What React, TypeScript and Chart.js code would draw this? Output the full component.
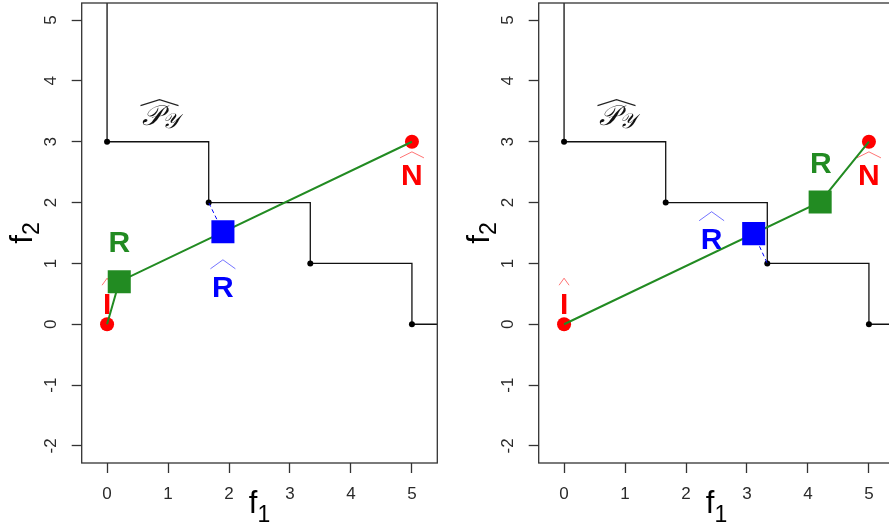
import React, { useEffect, useRef } from "react";
import { Chart, registerables } from "chart.js";

Chart.register(...registerables);

// ---------- data ----------
const X_TICKS = [0, 1, 2, 3, 4, 5];
const Y_TICKS = [-2, -1, 0, 1, 2, 3, 4, 5];
const X_RANGE = [-0.416, 5.416];
const Y_RANGE = [-2.28, 5.28];

// Pareto front approximation (points)
const FRONT_F1 = [0, 1.667, 3.333, 5];
const FRONT_F2 = [3, 2, 1, 0];
// where the staircase leaves the plot (beyond the axes)
const FRONT_TOP = 6;
const FRONT_RIGHT = 6;

const IDEAL = [0, 0];
const NADIR = [5, 3];

// left panel
const R_LEFT = [0.2, 0.7];
const RHAT_LEFT = [1.9, 1.52];
const PROJ_LEFT = [1.667, 2];
const LBL_R_LEFT = [0.2, 1.37];
const LBL_RHAT_LEFT = [1.9, 0.62];

// right panel
const R_RIGHT = [4.2, 2.01];
const RHAT_RIGHT = [3.11, 1.49];
const PROJ_RIGHT = [3.333, 1];
const LBL_R_RIGHT = [4.21, 2.67];
const LBL_RHAT_RIGHT = [2.42, 1.41];

// shared labels
const LBL_I = [0, 0.35];
const LBL_N = [5, 2.46];
const LBL_PY = [0.86, 3.38];

// ---------- styles ----------
const GREEN = "#228B22";
const BLUE = "#0000FF";
const RED = "#FF0000";
const AXIS = "#333333";
const SANS = '"Liberation Sans", Arial, sans-serif';

const PANEL_W = 457;
const PANEL_H = 525;

type Lbl = {
  text: string;
  at: number[];
  color: string;
  hat?: [number, number, number]; // width, height, gap
};

const pt = (a: number[]) => ({ x: a[0], y: a[1] });

function drawHat(ctx: CanvasRenderingContext2D, cx: number, base: number, w: number, h: number) {
  ctx.beginPath();
  ctx.moveTo(cx - w / 2, base);
  ctx.lineTo(cx, base - h);
  ctx.lineTo(cx + w / 2, base);
  ctx.stroke();
}

const labelsPlugin = {
  id: "panelLabels",
  beforeDatasetsDraw(chart: any, _args: any, opts: any) {
    const { ctx, scales } = chart;
    const xs = scales.x;
    const ys = scales.y;
    const size = 30;
    const cap = 0.716 * size;
    ctx.save();
    (opts.labels as Lbl[]).forEach((l) => {
      const px = xs.getPixelForValue(l.at[0]);
      const py = ys.getPixelForValue(l.at[1]);
      ctx.font = `bold ${size}px ${SANS}`;
      ctx.fillStyle = l.color;
      ctx.textAlign = "center";
      ctx.textBaseline = "alphabetic";
      ctx.fillText(l.text, px, py + cap / 2);
      if (l.hat) {
        ctx.strokeStyle = l.color;
        ctx.globalAlpha = 0.55;
        ctx.lineWidth = 1;
        drawHat(ctx, px, py - cap / 2 - l.hat[2], l.hat[0], l.hat[1]);
        ctx.globalAlpha = 1;
      }
    });
    // P-hat_Y label
    const pxp = xs.getPixelForValue(LBL_PY[0]);
    const pyp = ys.getPixelForValue(LBL_PY[1]);
    ctx.fillStyle = "#111";
    ctx.textAlign = "left";
    ctx.font = `italic 28px "DejaVu Serif", "Liberation Serif", serif`;
    const pW = ctx.measureText("\u{1D4AB}").width;
    ctx.font = `italic 21px "DejaVu Serif", "Liberation Serif", serif`;
    const yW = ctx.measureText("\u{1D4B4}").width;
    const total = pW + yW;
    const x0 = pxp - total / 2;
    ctx.font = `italic 28px "DejaVu Serif", "Liberation Serif", serif`;
    ctx.fillText("\u{1D4AB}", x0, pyp + 6);
    ctx.font = `italic 21px "DejaVu Serif", "Liberation Serif", serif`;
    ctx.fillText("\u{1D4B4}", x0 + pW, pyp + 9);
    ctx.strokeStyle = "#222";
    ctx.lineWidth = 1.1;
    drawHat(ctx, pxp, pyp - 13, total + 2, 6);
    ctx.restore();
  },
};

const framePlugin = {
  id: "frameTitles",
  afterDraw(chart: any) {
    const { ctx, chartArea } = chart;
    const { left, right, top, bottom } = chartArea;
    ctx.save();
    ctx.strokeStyle = AXIS;
    ctx.lineWidth = 1.3;
    ctx.strokeRect(left, top, right - left, bottom - top);

    // x title f1
    ctx.fillStyle = "#000";
    ctx.textBaseline = "alphabetic";
    ctx.textAlign = "left";
    const big = `31px ${SANS}`;
    const sub = `23px ${SANS}`;
    ctx.font = big;
    const fW = ctx.measureText("f").width;
    ctx.font = sub;
    const sW = ctx.measureText("1").width;
    const cx = (left + right) / 2;
    const xStart = cx - (fW + sW) / 2;
    const baseX = bottom + 50;
    ctx.font = big;
    ctx.fillText("f", xStart, baseX);
    ctx.font = sub;
    ctx.fillText("1", xStart + fW, baseX + 9);

    // y title f2 (rotated)
    const cy = (top + bottom) / 2;
    ctx.translate(32, cy);
    ctx.rotate(-Math.PI / 2);
    ctx.font = sub;
    const s2W = ctx.measureText("2").width;
    const yStart = -(fW + s2W) / 2;
    ctx.font = big;
    ctx.fillText("f", yStart, 0);
    ctx.font = sub;
    ctx.fillText("2", yStart + fW, 7);
    ctx.restore();
  },
};

function buildConfig(side: "left" | "right"): any {
  const R = side === "left" ? R_LEFT : R_RIGHT;
  const RH = side === "left" ? RHAT_LEFT : RHAT_RIGHT;
  const PJ = side === "left" ? PROJ_LEFT : PROJ_RIGHT;
  const lblR = side === "left" ? LBL_R_LEFT : LBL_R_RIGHT;
  const lblRH = side === "left" ? LBL_RHAT_LEFT : LBL_RHAT_RIGHT;

  const front = FRONT_F1.map((x, i) => ({ x, y: FRONT_F2[i] }));
  const stair = [
    { x: FRONT_F1[0], y: FRONT_TOP },
    ...front,
    { x: FRONT_RIGHT, y: FRONT_F2[FRONT_F2.length - 1] },
  ];

  const labels: Lbl[] = [
    { text: "R", at: lblR, color: GREEN },
    { text: "R", at: lblRH, color: BLUE, hat: [25, 9, 7] },
    { text: "I", at: LBL_I, color: RED, hat: [10, 7, 7] },
    { text: "N", at: LBL_N, color: RED, hat: [24, 6, 6] },
  ];

  const tickFont = { family: SANS, size: 17 };

  return {
    type: "scatter",
    data: {
      datasets: [
        {
          label: "Rhat",
          data: [pt(RH)],
          pointStyle: "rect",
          pointRadius: 16.3,
          backgroundColor: BLUE,
          borderWidth: 0,
          showLine: false,
          order: 0,
        },
        {
          label: "R",
          data: [pt(R)],
          pointStyle: "rect",
          pointRadius: 16.3,
          backgroundColor: GREEN,
          borderWidth: 0,
          showLine: false,
          order: 1,
        },
        {
          label: "proj",
          data: [pt(RH), pt(PJ)],
          showLine: true,
          borderColor: BLUE,
          borderWidth: 1,
          borderDash: [4, 3],
          pointRadius: 0,
          order: 2,
        },
        {
          label: "path",
          data: [pt(IDEAL), pt(R), pt(NADIR)],
          showLine: true,
          borderColor: GREEN,
          borderWidth: 2,
          pointRadius: 0,
          order: 3,
        },
        {
          label: "IN",
          data: [pt(IDEAL), pt(NADIR)],
          showLine: false,
          pointRadius: 7,
          backgroundColor: RED,
          borderWidth: 0,
          order: 4,
        },
        {
          label: "frontPts",
          data: front,
          showLine: false,
          pointRadius: 3,
          backgroundColor: "#000",
          borderWidth: 0,
          order: 5,
        },
        {
          label: "stair",
          data: stair,
          showLine: true,
          stepped: "before",
          borderColor: "#111",
          borderWidth: 1.3,
          pointRadius: 0,
          order: 6,
        },
      ],
    },
    options: {
      animation: false,
      responsive: false,
      maintainAspectRatio: false,
      events: [],
      layout: { autoPadding: false, padding: { top: 3, right: 19.7, left: 0, bottom: 0 } },
      plugins: {
        legend: { display: false },
        tooltip: { enabled: false },
        panelLabels: { labels },
      },
      scales: {
        x: {
          type: "linear",
          min: X_RANGE[0],
          max: X_RANGE[1],
          afterBuildTicks: (s: any) => {
            s.ticks = X_TICKS.map((v) => ({ value: v }));
          },
          afterFit: (s: any) => {
            s.height = 62;
            s.paddingLeft = 0;
            s.paddingRight = 0;
          },
          border: { display: false },
          grid: {
            drawOnChartArea: false,
            drawTicks: true,
            tickLength: 10,
            tickWidth: 1.3,
            tickColor: AXIS,
          },
          ticks: {
            font: tickFont,
            color: "#2a2a2a",
            padding: 11,
            maxRotation: 0,
            autoSkip: false,
            callback: (v: any) => String(v),
          },
        },
        y: {
          type: "linear",
          min: Y_RANGE[0],
          max: Y_RANGE[1],
          afterBuildTicks: (s: any) => {
            s.ticks = Y_TICKS.map((v) => ({ value: v }));
          },
          afterFit: (s: any) => {
            s.width = 81.7;
            s.paddingTop = 0;
            s.paddingBottom = 0;
          },
          border: { display: false },
          grid: {
            drawOnChartArea: false,
            drawTicks: true,
            tickLength: 10,
            tickWidth: 1.3,
            tickColor: AXIS,
          },
          ticks: {
            font: tickFont,
            color: "#2a2a2a",
            padding: 13,
            minRotation: 90,
            maxRotation: 90,
            crossAlign: "center",
            autoSkip: false,
            callback: (v: any) => String(v),
          },
        },
      },
    },
    plugins: [labelsPlugin, framePlugin],
  };
}

function Panel({ side, left }: { side: "left" | "right"; left: number }) {
  const ref = useRef<HTMLCanvasElement | null>(null);
  useEffect(() => {
    if (!ref.current) return;
    const chart = new Chart(ref.current, buildConfig(side));
    return () => chart.destroy();
  }, [side]);
  return (
    <canvas
      ref={ref}
      width={PANEL_W}
      height={PANEL_H}
      style={{ position: "absolute", left, top: 0, width: PANEL_W, height: PANEL_H }}
    />
  );
}

export default function App() {
  return (
    <div
      style={{
        position: "fixed",
        left: 0,
        top: 0,
        width: 889,
        height: 525,
        overflow: "hidden",
        background: "#fff",
      }}
    >
      <Panel side="left" left={0} />
      <Panel side="right" left={PANEL_W} />
    </div>
  );
}
